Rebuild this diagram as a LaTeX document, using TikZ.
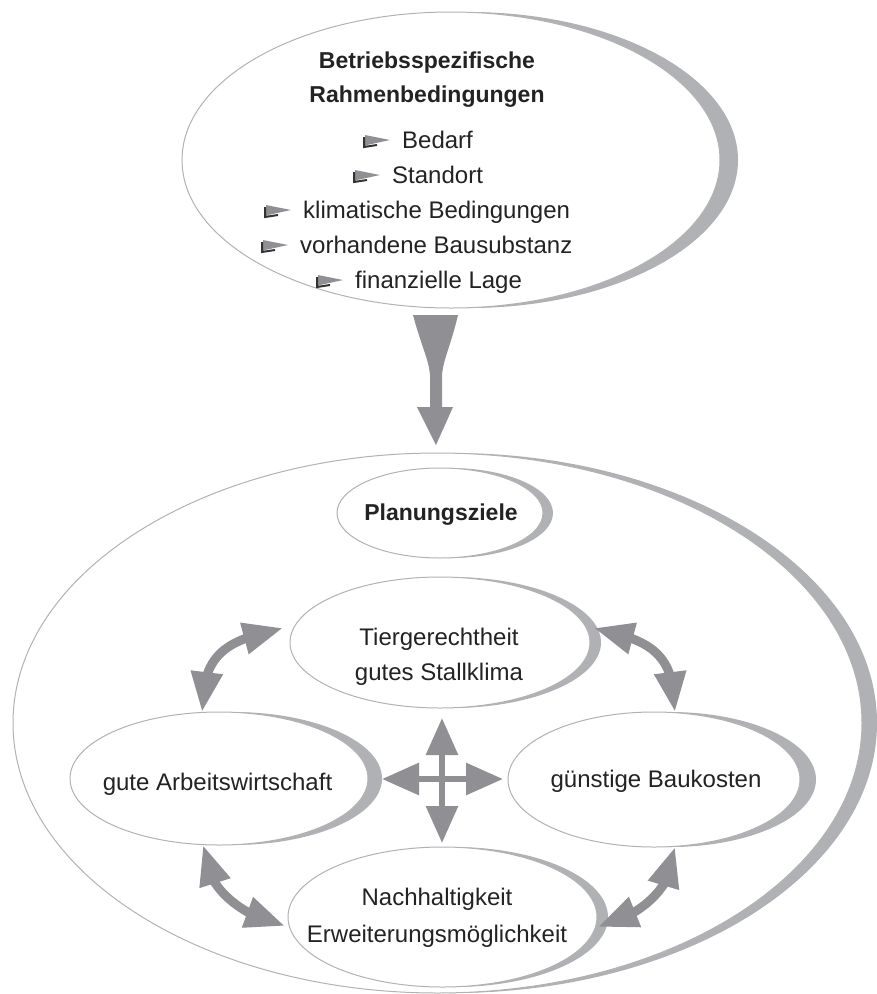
\documentclass[tikz,border=0pt]{standalone}
\usepackage{fontspec}
\setmainfont{Liberation Sans}
\usetikzlibrary{shapes.geometric,shadows,arrows.meta,bending}
\definecolor{outl}{RGB}{178,178,178}
\definecolor{shadcol}{RGB}{176,177,181}
\definecolor{arrg}{RGB}{143,143,148}
\definecolor{txt}{RGB}{35,35,35}
\tikzset{
  oval/.style={ellipse, draw=outl, line width=1pt, fill=white, inner sep=0pt},
  crescent/.style={drop shadow={shadow xshift=#1, shadow yshift=0pt, fill=shadcol, opacity=1}},
  lbl/.style={text=txt, font=\fontsize{24}{35}\selectfont, inner sep=0pt},
  bold/.style={text=txt, font=\fontsize{23}{35}\selectfont\bfseries, inner sep=0pt},
  dblarc/.style={draw=arrg, line width=9pt, {Triangle[length=40pt,width=30pt,flex]}-{Triangle[length=40pt,width=30pt,flex]}},
  crossarr/.style={draw=arrg, line width=6pt, {Triangle[length=37pt,width=31pt]}-{Triangle[length=37pt,width=31pt]}},
  pennant/.pic={
    \fill[arrg] (2,-6) -- (27,-1) -- (4,4) -- (2,5) -- cycle;
    \draw[black!80, line width=2pt] (1,-4) -- (1,6) -- (14,4);
  }
}
\begin{document}
\begin{tikzpicture}[x=1pt,y=-1pt]
\useasboundingbox (0,0) rectangle (877,994);
% big outer ellipse
\node[oval, crescent=15pt, minimum width=849pt, minimum height=540pt] (big) at (437.5,723) {};
% top ellipse
\node[oval, crescent=18pt, minimum width=538pt, minimum height=296pt] (top) at (451,160) {};
\node[bold, anchor=base] (t1) at (427,68) {Betriebsspezifische};
\node[bold, anchor=base] (t2) at (427,102) {Rahmenbedingungen};
\node[lbl, anchor=base west] (b1) at (402,148) {Bedarf};
\node[lbl, anchor=base west] (b2) at (392,183) {Standort};
\node[lbl, anchor=base west] (b3) at (303,218) {klimatische Bedingungen};
\node[lbl, anchor=base west] (b4) at (300,253) {vorhandene Bausubstanz};
\node[lbl, anchor=base west] (b5) at (355,288) {finanzielle Lage};
\foreach \b in {b1,b2,b3,b4,b5}{
  \pic at ([shift={(-39,-7)}]\b.base west) {pennant};
}
% inner ellipses
\node[oval, crescent=10pt, minimum width=206pt, minimum height=90pt] (plan) at (440,513) {};
\node[bold, anchor=base] (planT) at (441,520) {Planungsziele};
\node[oval, crescent=11pt, minimum width=300pt, minimum height=131pt] (tier) at (440,642.5) {};
\node[lbl, anchor=base] (tierT1) at (439,645) {Tiergerechtheit};
\node[lbl, anchor=base] (tierT2) at (439,680) {gutes Stallklima};
\node[oval, crescent=14pt, minimum width=298pt, minimum height=133pt] (arb) at (219,778.5) {};
\node[lbl, anchor=base] (arbT) at (217.5,790) {gute Arbeitswirtschaft};
\node[oval, crescent=16pt, minimum width=292pt, minimum height=135pt] (bau) at (654,779.5) {};
\node[lbl, anchor=base] (bauT) at (656,787) {günstige Baukosten};
\node[oval, crescent=11pt, minimum width=309pt, minimum height=140pt] (nach) at (442.5,917) {};
\node[lbl, anchor=base] (nachT1) at (437,905) {Nachhaltigkeit};
\node[lbl, anchor=base] (nachT2) at (437,942) {Erweiterungsmöglichkeit};
% big down arrow from top ellipse to outer ellipse
\coordinate (dTop) at (436,315);
\coordinate (dTip) at (436,445);
\fill[arrg] ([shift={(-23,0)}]dTop) .. controls +(8,30) and +(-1,-15) .. ([shift={(-6,60)}]dTop)
  -- ([shift={(-6,92)}]dTop) -- ([shift={(-19,92)}]dTop) -- (dTip) -- ([shift={(17,92)}]dTop)
  -- ([shift={(6,92)}]dTop) -- ([shift={(6,60)}]dTop) .. controls +(1,-15) and +(-7,30) .. ([shift={(22,0)}]dTop) -- cycle;
% cross arrow
\coordinate (cUp) at (442,718);
\coordinate (cDown) at (442,843);
\coordinate (cLeft) at (382,779);
\coordinate (cRight) at (503,779);
\draw[crossarr] (cUp) -- (cDown);
\draw[crossarr] (cLeft) -- (cRight);
% curved double arrows
\coordinate (tierW) at (283,628);
\coordinate (tierE) at (594,628);
\coordinate (arbN) at (202,712);
\coordinate (arbS) at (203,845);
\coordinate (bauN) at (675,712);
\coordinate (bauS) at (675,847);
\coordinate (nachW) at (285,926);
\coordinate (nachE) at (598,927);
\draw[dblarc] (tierW) .. controls (230,640) and (202,650) .. (arbN);
\draw[dblarc] (tierE) .. controls (647,640) and (675,650) .. (bauN);
\draw[dblarc] (arbS) .. controls (203,882) and (235,915) .. (nachW);
\draw[dblarc] (bauS) .. controls (675,884) and (645,915) .. (nachE);
\end{tikzpicture}
\end{document}
